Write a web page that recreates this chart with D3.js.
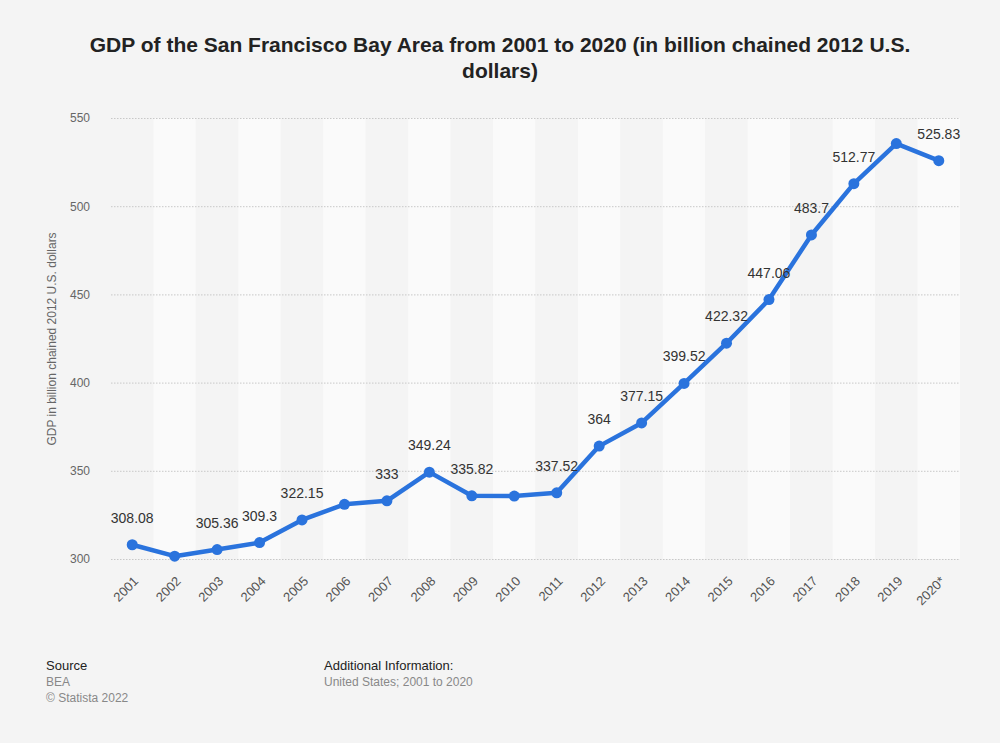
<!DOCTYPE html>
<html><head><meta charset="utf-8">
<script src="https://cdn.jsdelivr.net/npm/d3@7"></script>
<style>
body{margin:0;background:#f4f4f4;}
svg{display:block;font-family:"Liberation Sans",Arial,Helvetica,sans-serif;}
</style></head>
<body><svg id="c" width="1000" height="743"></svg>
<script>
const years = ["2001","2002","2003","2004","2005","2006","2007","2008","2009","2010","2011","2012","2013","2014","2015","2016","2017","2018","2019","2020*"];
const gdp = [308.08,301.6,305.36,309.3,322.15,331.0,333,349.24,335.82,335.7,337.52,364,377.15,399.52,422.32,447.06,483.7,512.77,535.5,525.83];
const shownLabels = ["308.08",null,"305.36","309.3","322.15",null,"333","349.24","335.82",null,"337.52","364","377.15","399.52","422.32","447.06","483.7","512.77",null,"525.83"];
const yTicks = [300,350,400,450,500,550];

const svg = d3.select("#c");
const L=111, R=960, T=118, B=559;
const x = d3.scaleBand().domain(years).range([L,R]);
const y = d3.scaleLinear().domain([300,550]).range([B,T]);

// title
svg.append("text").attr("x",500).attr("y",52).attr("text-anchor","middle")
  .attr("font-size",21).attr("font-weight","bold").attr("fill","#222")
  .text("GDP of the San Francisco Bay Area from 2001 to 2020 (in billion chained 2012 U.S.");
svg.append("text").attr("x",500).attr("y",78).attr("text-anchor","middle")
  .attr("font-size",21).attr("font-weight","bold").attr("fill","#222").text("dollars)");

// bands
svg.append("g").selectAll("rect").data(years).join("rect")
  .attr("x",d=>x(d)).attr("y",T).attr("width",x.bandwidth()).attr("height",B-T)
  .attr("fill",(d,i)=>i%2===1?"#fafafa":"#f4f4f4");

// grid
const yAxis = d3.axisLeft(y).tickValues(yTicks).tickSize(-(R-L)).tickPadding(21);
const gy = svg.append("g").attr("transform",`translate(${L},0)`).call(yAxis);
gy.select(".domain").remove();
gy.selectAll(".tick line").attr("stroke","#c8c8c8").attr("stroke-dasharray","1.5,1.5");
gy.selectAll(".tick text").attr("font-size",12).attr("fill","#666").attr("font-family","inherit");

// y title
svg.append("text").attr("transform",`translate(56,339) rotate(-90)`).attr("text-anchor","middle")
  .attr("font-size",12).attr("fill","#666").text("GDP in billion chained 2012 U.S. dollars");

// x axis
const xAxis = d3.axisBottom(x).tickSize(0).tickPadding(0);
const gx = svg.append("g").attr("transform",`translate(0,${B})`).call(xAxis);
gx.select(".domain").remove();
gx.selectAll(".tick text").attr("font-size",13).attr("fill","#555").attr("font-family","inherit")
  .attr("text-anchor","end").attr("dy",0)
  .attr("transform","translate(7,23) rotate(-45)");

// line
const cx = d=>x(d)+x.bandwidth()/2;
const data = years.map((yr,i)=>({yr,v:gdp[i],lab:shownLabels[i]}));
svg.append("path").datum(data)
  .attr("d",d3.line().x(d=>cx(d.yr)).y(d=>y(d.v)))
  .attr("fill","none").attr("stroke","#2a73dd").attr("stroke-width",4.5).attr("stroke-linejoin","round");
svg.append("g").selectAll("circle").data(data).join("circle")
  .attr("cx",d=>cx(d.yr)).attr("cy",d=>y(d.v)).attr("r",5.5).attr("fill","#2a73dd");

svg.append("g").selectAll("text").data(data.filter(d=>d.lab)).join("text")
  .attr("x",d=>cx(d.yr)).attr("y",d=>y(d.v)-22).attr("text-anchor","middle")
  .attr("font-size",14).attr("fill","#333").text(d=>d.lab);

// footer
const f = svg.append("g").attr("font-size",12);
f.append("text").attr("x",46).attr("y",670).attr("fill","#222").attr("font-size",13).text("Source");
f.append("text").attr("x",46).attr("y",686).attr("fill","#888").text("BEA");
f.append("text").attr("x",46).attr("y",702).attr("fill","#888").text("© Statista 2022");
f.append("text").attr("x",324).attr("y",670).attr("fill","#222").attr("font-size",13).text("Additional Information:");
f.append("text").attr("x",324).attr("y",686).attr("fill","#888").text("United States; 2001 to 2020");
</script></body></html>
